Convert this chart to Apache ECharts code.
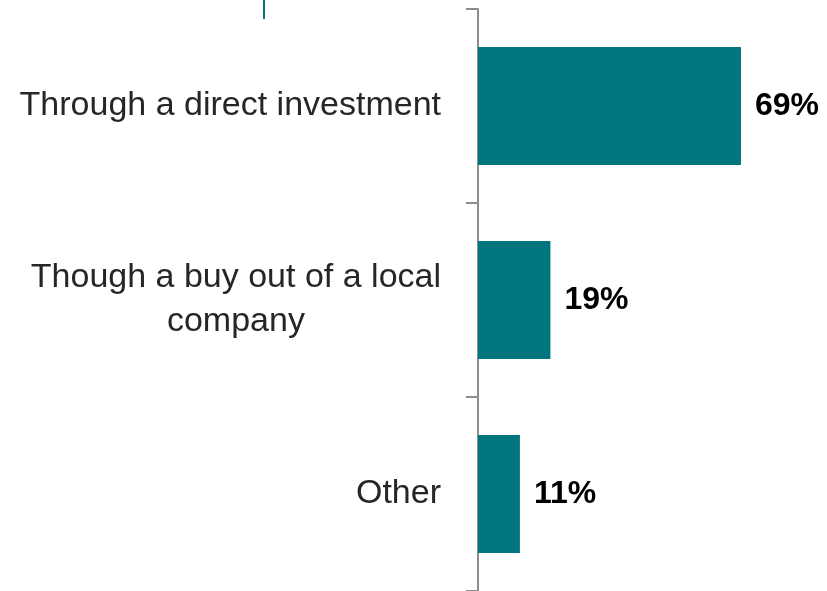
<!DOCTYPE html>
<html>
<head>
<meta charset="utf-8">
<script src="https://cdn.jsdelivr.net/npm/echarts@6/dist/echarts.min.js"></script>
<style>
html,body{margin:0;padding:0;background:#fff;}
#chart{width:827px;height:591px;}
</style>
</head>
<body>
<div id="chart"></div>
<script>
const categories = ["Through a direct investment", "Though a buy out of a local\ncompany", "Other"];
const values = [69, 19, 11];
const valueLabels = ["69%", "19%", "11%"];

const chart = echarts.init(document.getElementById('chart'), null, {renderer: 'canvas'});
chart.setOption({
  animation: false,
  backgroundColor: '#ffffff',
  grid: {left: 478, right: 6, top: 9, bottom: 0, containLabel: false},
  xAxis: {
    type: 'value', min: 0, max: 90, show: false
  },
  yAxis: {
    type: 'category',
    data: categories,
    inverse: true,
    axisLine: {show: true, lineStyle: {color: '#8c8c8c', width: 2}},
    axisTick: {show: true, length: 12, lineStyle: {color: '#8c8c8c', width: 2}},
    axisLabel: {
      margin: 37,
      color: '#262626',
      fontFamily: 'Liberation Sans',
      fontSize: 34,
      lineHeight: 44,
      formatter: function (v) {
        return v.split('\n').map(function (l) { return '{c|' + l + '}'; }).join('\n');
      },
      rich: {c: {align: 'center', color: '#262626', fontFamily: 'Liberation Sans', fontSize: 34, lineHeight: 44}}
    },
    splitLine: {show: false}
  },
  series: [{
    type: 'bar',
    data: values,
    barWidth: 118,
    itemStyle: {color: '#00777f'},
    label: {
      show: true,
      position: 'right',
      distance: 14,
      color: '#000000',
      fontFamily: 'Liberation Sans',
      fontWeight: 'bold',
      fontSize: 32,
      formatter: function (p) { return valueLabels[p.dataIndex]; }
    }
  }],
  graphic: [{
    type: 'line',
    shape: {x1: 264, y1: 0, x2: 264, y2: 19},
    style: {stroke: '#00777f', lineWidth: 2}
  }]
});
</script>
</body>
</html>
